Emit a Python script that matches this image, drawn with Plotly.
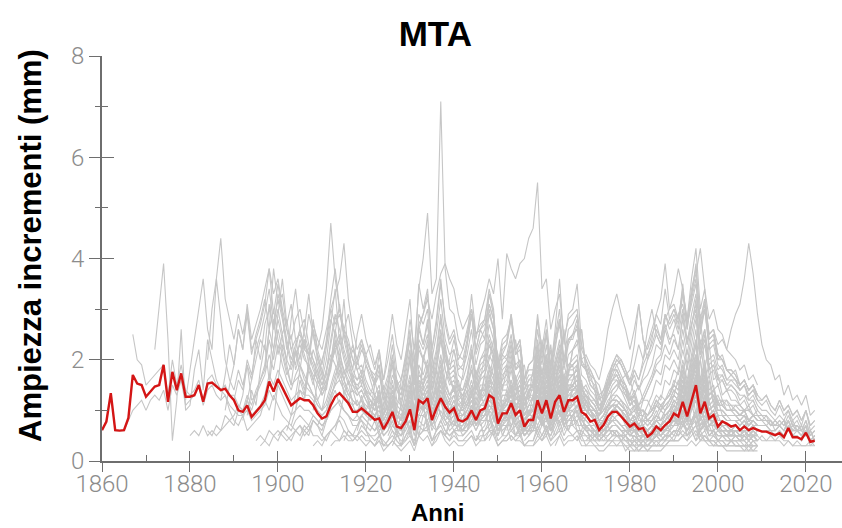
import plotly.graph_objects as go

# ---- mean chronology (red), 1860-2022 ----
mean_start = 1860
mean_vals = [
    0.61, 0.78, 1.34, 0.61, 0.60, 0.61, 0.85, 1.70, 1.53, 1.50,
    1.27, 1.37, 1.47, 1.50, 1.90, 1.17, 1.76, 1.40, 1.73, 1.27,
    1.27, 1.30, 1.50, 1.17, 1.53, 1.55, 1.47, 1.40, 1.43, 1.30,
    1.20, 1.00, 0.97, 1.10, 0.87, 0.97, 1.07, 1.20, 1.57, 1.37,
    1.62, 1.45, 1.27, 1.10, 1.17, 1.24, 1.20, 1.20, 1.10, 0.94,
    0.84, 0.88, 1.10, 1.27, 1.34, 1.24, 1.14, 0.97, 0.97, 1.04,
    0.97, 0.89, 0.81, 0.84, 0.63, 0.78, 0.97, 0.68, 0.65, 0.78,
    1.02, 0.61, 1.20, 1.14, 1.24, 0.81, 1.04, 1.24, 1.07, 0.96,
    1.04, 0.81, 0.78, 0.84, 1.00, 0.81, 1.00, 1.04, 1.30, 1.24,
    0.74, 0.94, 0.94, 1.14, 0.91, 1.00, 0.68, 0.81, 0.81, 1.20,
    0.94, 1.20, 0.84, 1.17, 1.30, 0.97, 1.20, 1.20, 1.27, 0.97,
    0.91, 0.78, 0.81, 0.61, 0.71, 0.88, 0.97, 0.97, 0.88, 0.78,
    0.68, 0.74, 0.63, 0.65, 0.48, 0.55, 0.68, 0.61, 0.71, 0.78,
    0.94, 0.88, 1.17, 0.88, 1.20, 1.50, 0.94, 1.17, 0.84, 0.91,
    0.68, 0.78, 0.74, 0.68, 0.71, 0.61, 0.68, 0.61, 0.65, 0.61,
    0.58, 0.58, 0.55, 0.51, 0.55, 0.47, 0.65, 0.47, 0.47, 0.43,
    0.56, 0.38, 0.40,
]

# ---- individual ring-width series (grey), each with its first year ----
g01_start = 1860
g01 = [0.6, 0.8, 1.3, 0.6, 0.6, 0.6, 0.8, 1.0, 1.1, 1.2,
       1.0, 1.2, 1.3, 1.2, 1.4, 1.0, 1.5, 1.3, 1.6, 1.1,
       1.2, 1.3, 1.5, 1.1, 1.4, 1.5, 1.3, 1.2, 1.3, 1.1,
       1.0, 0.9, 0.9, 1.0, 0.8, 0.9, 1.0, 1.1, 1.4, 1.2,
       1.5, 1.3, 1.1, 0.9, 1.0, 1.1, 1.0, 1.0, 0.9, 0.8,
       0.7, 0.8, 1.0, 1.1, 1.2, 1.0, 0.9, 0.8, 0.8, 0.9,
       0.8, 0.7, 0.6, 0.7, 0.5, 0.6, 0.8, 0.5, 0.5, 0.6,
       0.8, 0.5, 0.9, 0.9, 1.0, 0.6, 0.8, 1.0, 0.8, 0.7,
       0.8, 0.6, 0.6, 0.7, 0.8, 0.6, 0.8, 0.8, 1.0, 0.9,
       0.5, 0.7, 0.7, 0.9, 0.7, 0.8, 0.5, 0.6, 0.6, 0.9,
       0.7, 0.9, 0.6, 0.9, 1.0, 0.7, 0.9, 0.9, 1.0, 0.7,
       0.7, 0.6, 0.6, 0.4, 0.5, 0.6, 0.7, 0.7, 0.6, 0.6,
       0.5, 0.5, 0.4, 0.4, 0.3, 0.4, 0.5, 0.4, 0.5, 0.5,
       0.6, 0.6, 0.8, 0.6, 0.8, 1.0, 0.6, 0.8, 0.6, 0.6,
       0.5, 0.5, 0.5, 0.5, 0.5, 0.4, 0.5, 0.4, 0.5, 0.4]

g02_start = 1867
g02 = [2.5, 2.0, 1.9,
       1.5, 1.6, 1.7, 1.8, 1.9, 1.3, 2.0, 1.5, 1.9, 1.4,
       1.3, 1.4, 1.6, 1.2, 1.6, 1.7, 1.5, 1.4, 1.5, 1.3,
       1.3, 1.1, 1.0, 1.2, 0.9, 1.0, 1.1, 1.3, 1.7, 1.5,
       1.8, 1.6, 1.4, 1.2, 1.3, 1.4, 1.3, 1.3, 1.2, 1.0,
       0.9, 1.0, 1.3, 1.5, 1.6, 1.4, 1.2, 1.0, 1.0, 1.1,
       1.0, 0.9, 0.8, 0.9, 0.6, 0.8, 1.0, 0.7, 0.6, 0.8,
       1.1, 0.6, 1.3, 1.2, 1.4, 0.8, 1.1, 1.4, 1.1, 0.9,
       1.1, 0.8, 0.8, 0.9, 1.1, 0.8, 1.1, 1.1, 1.4, 1.3,
       0.7, 1.0, 1.0, 1.2, 0.9, 1.0, 0.7, 0.8, 0.8, 1.2,
       0.9, 1.2, 0.8, 1.1, 1.3, 0.9, 1.2, 1.2, 1.3, 0.9,
       0.9, 0.8, 0.8, 0.6, 0.7, 0.9, 1.0, 1.0, 0.9, 0.8,
       0.7, 0.7, 0.6, 0.6, 0.5, 0.6, 0.7, 0.6, 0.7, 0.8,
       0.9, 0.9, 1.2, 0.9, 1.2, 1.5, 0.9, 1.1, 0.8, 0.9,
       0.7, 0.8, 0.7, 0.7, 0.7, 0.6, 0.7, 0.6, 0.7, 0.6,
       0.6, 0.6, 0.6, 0.5, 0.6, 0.5, 0.7, 0.5, 0.5, 0.4,
       0.6, 0.4, 0.4]

g03_start = 1872
g03 = [2.2, 3.0, 3.9, 2.4, 0.4, 1.2, 2.6, 1.0,
       1.1, 1.8, 2.2, 1.4, 2.4, 2.0, 1.6, 1.4, 1.3, 1.0,
       0.8, 0.7, 0.9, 0.6, 0.7, 0.8, 0.9, 1.2, 1.0, 1.3,
       1.1, 0.9, 0.8, 0.7, 0.6, 0.7, 0.6, 0.7, 0.5, 0.5,
       0.4, 0.5, 0.6, 0.7, 0.8, 0.6, 0.5, 0.5, 0.4, 0.5,
       0.4, 0.4, 0.3, 0.4, 0.3, 0.3, 0.4, 0.3, 0.3, 0.4,
       0.5, 0.3, 0.5, 0.6, 0.6, 0.4, 0.5, 0.6, 0.5, 0.4,
       0.5, 0.4, 0.4, 0.4, 0.5, 0.4, 0.5, 0.5, 0.6, 0.6,
       0.3, 0.4, 0.4, 0.5, 0.4, 0.5, 0.3, 0.4, 0.4, 0.6,
       0.4, 0.6, 0.4, 0.5, 0.6, 0.4, 0.5, 0.5, 0.6, 0.4,
       0.4, 0.4, 0.3, 0.3, 0.3, 0.4, 0.4, 0.4, 0.4, 0.3,
       0.3, 0.3, 0.2, 0.3, 0.2, 0.3, 0.3, 0.3, 0.3, 0.4,
       0.4, 0.4, 0.5, 0.4, 0.5, 0.6, 0.4, 0.5, 0.4, 0.4,
       0.3, 0.3, 0.3, 0.3, 0.3, 0.3, 0.3, 0.3, 0.3, 0.3]

g04_start = 1879
g04 = [1.2,
       1.8, 2.4, 3.0, 3.6, 2.6, 2.2, 3.6, 2.8, 2.0, 1.6,
       1.4, 1.8, 1.5, 1.9, 1.2, 1.3, 1.6, 1.8, 2.4, 2.0,
       2.6, 2.2, 1.8, 1.5, 1.6, 1.7, 1.5, 1.4, 1.3, 1.1,
       1.0, 1.1, 1.4, 1.7, 1.9, 1.6, 1.3, 1.2, 1.1, 1.2,
       1.1, 1.0, 0.9, 1.0, 0.7, 0.9, 1.1, 0.8, 0.7, 0.9,
       1.2, 0.7, 1.4, 1.3, 1.5, 0.9, 1.2, 1.6, 1.2, 1.0,
       1.2, 0.9, 0.9, 1.0, 1.2, 0.9, 1.2, 1.2, 1.5, 1.4,
       0.8, 1.1, 1.1, 1.3, 1.0, 1.1, 0.8, 0.9, 0.9, 1.3,
       1.0, 1.3, 0.9, 1.2, 1.4, 1.0, 1.3, 1.3, 1.4, 1.0,
       1.0, 0.9, 0.8, 0.7, 0.8, 0.9, 1.0, 1.0, 0.9, 0.8,
       0.7, 0.7, 0.6, 0.6, 0.5, 0.6, 0.7, 0.6, 0.7, 0.8,
       0.9, 0.9, 1.2, 1.0, 1.3, 1.6, 1.0, 1.2, 0.9, 0.9,
       0.8, 0.8, 0.7, 0.7, 0.7, 0.6, 0.7, 0.6, 0.7, 0.6,
       0.6, 0.6, 0.5, 0.5, 0.6, 0.5, 0.7, 0.5, 0.5, 0.4,
       0.6, 0.3, 0.4]

g05_start = 1880
g05 = [0.5, 0.6, 0.5, 0.7, 0.5, 0.6, 0.5, 0.6, 0.7, 0.8,
       0.9, 1.1, 1.0, 1.3, 1.1, 1.4, 1.6, 1.9, 2.6, 2.2,
       2.8, 2.4, 2.0, 1.8, 2.1, 2.3, 2.0, 1.9, 1.7, 1.5,
       1.3, 1.5, 1.9, 2.3, 2.5, 2.1, 1.8, 1.6, 1.5, 1.6,
       1.4, 1.3, 1.2, 1.3, 0.9, 1.1, 1.4, 1.0, 0.9, 1.1,
       1.5, 0.9, 1.7, 1.6, 1.8, 1.1, 1.5, 1.9, 1.5, 1.3,
       1.4, 1.1, 1.1, 1.2, 1.4, 1.1, 1.4, 1.4, 1.8, 1.7,
       1.0, 1.3, 1.3, 1.6, 1.2, 1.3, 0.9, 1.1, 1.1, 1.6,
       1.2, 1.6, 1.1, 1.5, 1.7, 1.2, 1.6, 1.6, 1.7, 1.2,
       1.2, 1.0, 1.0, 0.8, 0.9, 1.1, 1.2, 1.2, 1.1, 1.0,
       0.8, 0.9, 0.7, 0.7, 0.6, 0.7, 0.8, 0.7, 0.8, 0.9,
       1.1, 1.0, 1.4, 1.1, 1.5, 1.8, 1.1, 1.4, 1.0, 1.1,
       0.9, 0.9, 0.8, 0.8, 0.8, 0.7, 0.8, 0.7, 0.8, 0.7]

g06_start = 1884
g06 = [2.0, 3.0, 3.6, 4.4, 3.2, 2.8,
       2.4, 2.9, 2.5, 3.0, 2.2, 2.4, 2.7, 3.1, 3.8, 3.3,
       3.6, 3.0, 2.6, 2.2, 2.4, 2.5, 2.2, 2.1, 1.9, 1.6,
       1.4, 1.5, 1.9, 2.2, 2.4, 2.0, 1.7, 1.5, 1.4, 1.5,
       1.3, 1.2, 1.1, 1.2, 0.8, 1.0, 1.3, 0.9, 0.8, 1.0,
       1.3, 0.8, 1.5, 1.4, 1.6, 1.0, 1.3, 1.7, 1.3, 1.1,
       1.3, 1.0, 1.0, 1.1, 1.3, 1.0, 1.3, 1.3, 1.6, 1.5,
       0.9, 1.1, 1.1, 1.4, 1.0, 1.1, 0.8, 0.9, 0.9, 1.4,
       1.0, 1.4, 0.9, 1.3, 1.5, 1.0, 1.4, 1.4, 1.5, 1.1,
       1.1, 0.9, 0.9, 0.7, 0.8, 1.0, 1.1, 1.1, 1.0, 0.9,
       0.7, 0.8, 0.6, 0.6, 0.5, 0.6, 0.7, 0.6, 0.7, 0.8,
       1.0, 0.9, 1.3, 1.0, 1.4, 1.7, 1.0, 1.3, 0.9, 1.0,
       0.8, 0.8, 0.7, 0.7, 0.7, 0.6, 0.7, 0.6, 0.7, 0.6]

g07_start = 1888
g07 = [1.0, 1.5,
       1.9, 2.6, 2.2, 3.1, 2.4, 2.7, 3.0, 3.4, 3.8, 2.9,
       3.5, 2.9, 2.4, 2.0, 2.3, 2.6, 2.8, 2.3, 2.0, 1.7,
       1.5, 1.7, 2.4, 2.9, 2.6, 2.2, 1.9, 1.5, 1.3, 1.4,
       1.2, 1.0, 0.9, 1.1, 0.6, 0.9, 1.2, 0.8, 0.7, 0.9,
       1.2, 0.6, 1.3, 1.1, 1.3, 0.8, 1.0, 1.4, 1.1, 0.9,
       1.0, 0.7, 0.8, 0.9, 1.1, 0.8, 0.9, 1.0, 1.3, 1.1,
       0.6, 0.8, 0.9, 1.1, 0.8, 0.9, 0.6, 0.7, 0.7, 1.1,
       0.8, 1.0, 0.7, 1.0, 1.2, 0.8, 1.0, 1.1, 1.2, 0.8,
       0.8, 0.7, 0.6, 0.5, 0.6, 0.7, 0.8, 0.8, 0.7, 0.6,
       0.5, 0.6, 0.4, 0.5, 0.4, 0.5, 0.6, 0.5, 0.6, 0.7,
       0.8, 0.7, 1.0, 0.8, 1.1, 1.3, 0.8, 1.0, 0.7, 0.8,
       0.6, 0.6, 0.6, 0.5, 0.6, 0.5, 0.6, 0.5, 0.6, 0.5]

g08_start = 1892
g08 = [0.8, 1.2, 1.6, 2.0, 2.4, 2.2, 3.1, 2.6,
       3.0, 2.5, 2.8, 2.2, 1.9, 2.4, 2.1, 1.8, 2.2, 1.9,
       1.6, 2.0, 2.7, 3.4, 2.3, 3.2, 2.0, 1.7, 1.6, 1.8,
       1.5, 1.3, 1.6, 1.2, 0.9, 1.1, 1.5, 1.0, 0.8, 1.2,
       1.6, 0.9, 1.8, 1.5, 1.7, 1.1, 1.4, 2.0, 1.4, 1.2,
       1.3, 1.0, 0.9, 1.1, 1.4, 1.0, 1.2, 1.3, 1.7, 1.5,
       0.8, 1.1, 1.2, 1.5, 1.1, 1.2, 0.8, 0.9, 1.0, 1.5,
       1.1, 1.4, 1.0, 1.4, 1.6, 1.1, 1.4, 1.5, 1.6, 1.1,
       1.0, 0.9, 0.8, 0.6, 0.7, 0.9, 1.0, 1.1, 1.0, 0.8,
       0.7, 0.8, 0.6, 0.6, 0.5, 0.6, 0.8, 0.7, 0.8, 0.9,
       1.1, 1.0, 1.4, 1.1, 1.5, 1.9, 1.1, 1.5, 1.0, 1.1,
       0.9, 0.9, 0.8, 0.8, 0.8, 0.7, 0.8, 0.7, 0.8, 0.7,
       0.7, 0.7, 0.6, 0.6, 0.7, 0.6, 0.8, 0.6, 0.6, 0.5,
       0.7, 0.4, 0.5]

g09_start = 1895
g09 = [0.4, 0.5, 0.4, 0.6, 0.5,
       0.6, 0.5, 0.4, 0.5, 0.6, 0.5, 0.7, 0.6, 0.8, 0.7,
       0.9, 1.0, 1.3, 1.5, 1.8, 1.6, 1.9, 2.2, 2.0, 2.4,
       2.1, 2.3, 1.9, 2.2, 1.6, 2.0, 2.5, 1.8, 1.6, 2.1,
       2.6, 1.5, 2.9, 2.7, 3.0, 2.0, 2.5, 3.2, 2.4, 2.1,
       2.2, 1.7, 1.6, 1.9, 2.3, 1.7, 2.0, 2.1, 2.7, 2.4,
       1.3, 1.7, 1.8, 2.2, 1.6, 1.8, 1.2, 1.4, 1.4, 2.1,
       1.5, 1.9, 1.3, 1.8, 2.1, 1.4, 1.8, 1.9, 2.0, 1.4,
       1.3, 1.1, 1.0, 0.8, 0.9, 1.1, 1.2, 1.3, 1.2, 1.0,
       0.8, 0.9, 0.7, 0.7, 0.6, 0.7, 0.9, 0.8, 0.9, 1.0,
       1.2, 1.1, 1.5, 1.2, 1.6, 2.0, 1.2, 1.6, 1.1, 1.2,
       1.0, 1.0, 0.9, 0.9, 0.9, 0.8, 0.9, 0.8, 0.9, 0.8]

g10_start = 1897
g10 = [1.8, 2.6, 3.8,
       3.1, 3.3, 2.6, 2.4, 2.8, 3.0, 2.5, 2.2, 2.0, 1.8,
       1.5, 1.8, 2.3, 2.8, 3.0, 2.5, 2.1, 1.8, 1.6, 1.7,
       1.4, 1.2, 1.0, 1.3, 0.8, 1.0, 1.4, 0.9, 0.8, 1.0,
       1.4, 0.8, 1.5, 1.3, 1.5, 0.9, 1.2, 1.6, 1.2, 1.0,
       1.1, 0.8, 0.9, 1.0, 1.2, 0.9, 1.1, 1.1, 1.5, 1.2,
       0.7, 0.9, 0.9, 1.2, 0.9, 1.0, 0.6, 0.8, 0.8, 1.2,
       0.9, 1.1, 0.8, 1.0, 1.3, 0.8, 1.1, 1.1, 1.2, 0.9,
       0.8, 0.7, 0.7, 0.5, 0.6, 0.7, 0.8, 0.8, 0.7, 0.7,
       0.5, 0.6, 0.5, 0.5, 0.4, 0.5, 0.6, 0.5, 0.6, 0.6,
       0.7, 0.7, 0.9, 0.7, 1.0, 1.2, 0.7, 0.9, 0.7, 0.7,
       0.6, 0.6, 0.5, 0.5, 0.5, 0.5, 0.5, 0.4, 0.5, 0.5]

g11_start = 1900
g11 = [0.5, 0.6, 0.7, 0.6, 0.8, 0.9, 0.8, 0.7, 0.9, 0.8,
       0.7, 0.8, 1.0, 1.1, 1.2, 1.0, 0.9, 0.7, 0.7, 0.8,
       0.6, 0.5, 0.5, 0.6, 0.3, 0.4, 0.6, 0.4, 0.3, 0.5,
       0.7, 0.3, 0.8, 0.7, 0.8, 0.4, 0.6, 0.8, 0.6, 0.5,
       0.6, 0.4, 0.4, 0.5, 0.6, 0.4, 0.6, 0.6, 0.8, 0.7,
       0.4, 0.5, 0.5, 0.7, 0.5, 0.6, 0.3, 0.4, 0.4, 0.7,
       0.5, 0.7, 0.4, 0.6, 0.8, 0.5, 0.7, 0.7, 0.8, 0.5,
       0.5, 0.4, 0.4, 0.3, 0.3, 0.4, 0.5, 0.5, 0.4, 0.4,
       0.3, 0.3, 0.2, 0.3, 0.2, 0.3, 0.3, 0.3, 0.3, 0.4,
       0.4, 0.4, 0.5, 0.4, 0.6, 0.7, 0.4, 0.5, 0.4, 0.4,
       0.3, 0.3, 0.3, 0.3, 0.3, 0.3, 0.3, 0.2, 0.3, 0.3]

g12_start = 1906
g12 = [1.2, 2.0, 2.8, 2.2,
       2.6, 3.4, 4.7, 3.6, 3.0, 2.6, 2.4, 2.0, 1.8, 1.9,
       1.6, 1.4, 1.3, 1.5, 0.9, 1.2, 1.6, 1.1, 1.0, 1.3,
       1.7, 1.0, 1.9, 1.7, 2.0, 1.2, 1.6, 2.1, 1.6, 1.3,
       1.4, 1.1, 1.0, 1.2, 1.5, 1.1, 1.4, 1.4, 1.8, 1.6,
       0.9, 1.2, 1.2, 1.5, 1.1, 1.2, 0.8, 1.0, 1.0, 1.5,
       1.1, 1.5, 1.0, 1.4, 1.7, 1.1, 1.5, 1.5, 1.6, 1.1,
       1.0, 0.9, 0.8, 0.6, 0.7, 0.9, 1.0, 1.0, 0.9, 0.8,
       0.7, 0.7, 0.6, 0.6, 0.5, 0.6, 0.7, 0.6, 0.7, 0.8,
       0.9, 0.9, 1.2, 0.9, 1.3, 1.6, 0.9, 1.2, 0.8, 0.9,
       0.7, 0.7, 0.7, 0.6, 0.7, 0.6, 0.7, 0.6, 0.7, 0.6]

g13_start = 1925
g13 = [0.8, 1.2, 1.0, 1.6, 2.0,
       2.8, 2.2, 3.4, 4.0, 4.9, 3.3, 3.6, 7.1, 3.8, 3.0,
       2.9, 2.4, 2.2, 2.5, 2.9, 2.1, 2.4, 2.6, 3.1, 2.8,
       1.6, 2.0, 2.1, 2.5, 1.9, 2.0, 1.4, 1.6, 1.6, 2.3,
       1.7, 2.1, 1.4, 1.9, 2.2, 1.5, 1.9, 2.0, 2.1, 1.5,
       1.4, 1.2, 1.1, 0.9, 1.0, 1.2, 1.3, 1.3, 1.2, 1.1,
       0.9, 1.0, 0.8, 0.8, 0.7, 0.8, 0.9, 0.8, 0.9, 1.0,
       1.2, 1.1, 1.5, 1.2, 1.6, 2.0, 1.2, 1.5, 1.0, 1.1,
       0.9, 0.9, 0.8, 0.8, 0.8, 0.7, 0.8, 0.7, 0.8, 0.7,
       0.7, 0.7, 0.6, 0.6, 0.7, 0.6, 0.8, 0.6, 0.6, 0.5,
       0.7, 0.4, 0.5]

g14_start = 1908
g14 = [1.0, 1.6,
       2.0, 2.3, 3.0, 3.3, 3.6, 4.3, 3.2, 2.6, 2.2, 2.4,
       2.0, 1.8, 1.6, 1.9, 1.2, 1.5, 2.0, 1.4, 1.2, 1.6,
       2.0, 1.2, 2.2, 2.0, 2.3, 1.4, 1.8, 2.4, 1.8, 1.5,
       1.6, 1.2, 1.1, 1.3, 1.6, 1.2, 1.5, 1.5, 1.9, 1.7,
       1.0, 1.3, 1.3, 1.6, 1.2, 1.3, 0.9, 1.0, 1.0, 1.5,
       1.1, 1.4, 1.0, 1.3, 1.6, 1.1, 1.4, 1.4, 1.5, 1.1,
       1.0, 0.9, 0.8, 0.6, 0.7, 0.9, 1.0, 1.0, 0.9, 0.8,
       0.6, 0.7, 0.5, 0.5, 0.4, 0.5, 0.6, 0.5, 0.6, 0.7,
       0.8, 0.8, 1.0, 0.8, 1.1, 1.3, 0.8, 1.0, 0.7, 0.8,
       0.6, 0.6, 0.6, 0.5, 0.6, 0.5, 0.6, 0.5, 0.6, 0.5]

g15_start = 1918
g15 = [0.6, 0.9,
       1.0, 1.2, 1.1, 1.4, 1.0, 1.3, 1.7, 1.5, 1.6, 2.0,
       2.4, 1.9, 2.7, 2.9, 3.2, 2.8, 3.3, 3.7, 3.9, 3.6,
       3.4, 2.9, 2.6, 2.8, 3.0, 2.5, 2.6, 2.7, 3.1, 2.8,
       1.9, 2.1, 2.0, 2.3, 1.8, 1.9, 1.3, 1.5, 1.5, 2.0,
       1.5, 1.8, 1.2, 1.6, 1.9, 1.3, 1.6, 1.7, 1.8, 1.3,
       1.2, 1.0, 0.9, 0.7, 0.8, 1.0, 1.1, 1.1, 1.0, 0.9,
       0.7, 0.8, 0.6, 0.6, 0.5, 0.6, 0.7, 0.6, 0.7, 0.8,
       0.9, 0.9, 1.1, 0.9, 1.2, 1.4, 0.9, 1.1, 0.8, 0.9,
       0.7, 0.7, 0.6, 0.6, 0.6, 0.6, 0.6, 0.5, 0.6, 0.5]

g16_start = 1938
g16 = [1.5, 2.0,
       2.4, 2.0, 2.2, 2.6, 3.0, 2.4, 2.9, 3.2, 3.6, 3.3,
       4.0, 2.8, 4.1, 3.8, 3.6, 3.9, 4.0, 4.4, 4.6, 5.5,
       3.4, 3.6, 2.6, 3.0, 3.3, 2.4, 2.8, 2.9, 3.0, 2.2,
       2.0, 1.8, 1.6, 1.3, 1.4, 1.6, 1.8, 1.8, 1.6, 1.5,
       1.2, 1.3, 1.0, 1.0, 0.9, 1.0, 1.2, 1.1, 1.2, 1.3,
       1.5, 1.4, 1.8, 1.4, 1.9, 2.3, 1.4, 1.8, 1.2, 1.3,
       1.1, 1.1, 1.0, 1.0, 1.0, 0.9, 1.0, 0.8, 0.9, 0.8,
       0.8, 0.8, 0.7, 0.7, 0.8, 0.7, 0.9, 0.7, 0.7, 0.6,
       0.8, 0.5, 0.6]

g17_start = 1925
g17 = [0.5, 0.7, 0.6, 0.9, 1.1,
       1.4, 1.0, 1.6, 1.5, 1.8, 1.2, 1.5, 1.9, 1.5, 1.3,
       1.5, 1.2, 1.3, 1.5, 1.8, 1.4, 1.7, 1.8, 2.3, 2.1,
       1.4, 1.8, 1.9, 2.3, 1.8, 2.0, 1.4, 1.6, 1.7, 2.4,
       1.9, 2.5, 1.8, 2.6, 3.6, 2.3, 2.9, 3.0, 3.5, 2.3,
       2.0, 1.7, 1.6, 1.2, 1.4, 1.7, 1.9, 1.9, 1.7, 1.5,
       1.2, 1.3, 1.0, 1.0, 0.9, 1.0, 1.2, 1.0, 1.2, 1.3,
       1.5, 1.4, 1.9, 1.5, 2.0, 2.4, 1.5, 1.9, 1.3, 1.4,
       1.1, 1.1, 1.0, 1.0, 1.0, 0.9, 1.0, 0.8, 0.9, 0.8]

g18_start = 1945
g18 = [0.4, 0.6, 0.7, 1.0, 1.1,
       0.8, 1.1, 1.2, 1.5, 1.3, 1.5, 1.1, 1.4, 1.5, 2.0,
       1.7, 2.1, 1.6, 2.0, 2.4, 1.8, 2.3, 2.5, 2.6, 2.0,
       2.1, 1.9, 1.8, 1.6, 2.0, 2.6, 3.0, 3.3, 2.9, 2.6,
       2.2, 2.6, 3.1, 2.4, 2.0, 2.2, 2.5, 2.3, 2.8, 3.0,
       3.1, 2.8, 3.4, 2.7, 3.2, 3.6, 2.5, 3.0, 2.2, 2.3,
       1.9, 1.8, 1.6, 1.6, 1.5, 1.4, 1.5, 1.3, 1.4, 1.2]

g19_start = 1950
g19 = [0.3, 0.4, 0.5, 0.6, 0.5, 0.7, 0.5, 0.6, 0.7, 0.9,
       0.8, 1.0, 0.8, 1.1, 1.3, 1.0, 1.3, 1.4, 1.5, 1.2,
       1.3, 1.2, 1.1, 0.9, 1.1, 1.4, 1.6, 1.8, 1.6, 1.5,
       1.3, 1.6, 1.4, 1.7, 2.0, 2.4, 2.9, 3.2, 3.9, 3.0,
       3.3, 3.8, 3.4, 2.8, 3.6, 4.2, 3.0, 3.4, 2.4, 2.5,
       2.0, 2.1, 1.8, 1.7, 1.6, 1.5, 1.6, 1.4, 1.5, 1.3]

g20_start = 1955
g20 = [0.5, 0.6, 0.7, 0.9, 1.0,
       1.1, 1.3, 1.0, 1.3, 1.5, 1.2, 1.4, 1.5, 1.6, 1.3,
       1.4, 1.3, 1.2, 1.0, 1.1, 1.3, 1.4, 1.5, 1.4, 1.3,
       1.1, 1.3, 1.1, 1.2, 1.4, 1.6, 1.9, 2.0, 2.3, 2.1,
       2.4, 2.2, 2.8, 2.3, 2.9, 3.3, 2.6, 3.1, 2.5, 2.6,
       2.3, 2.4, 2.2, 2.6, 2.9, 3.1, 3.6, 4.3, 3.7, 2.9,
       2.3, 2.0, 1.9, 1.6, 1.7, 1.3, 1.5, 1.2, 1.3, 1.1,
       1.3, 0.9, 1.0]

g21_start = 1965
g21 = [0.6, 0.8, 0.9, 1.1, 1.0,
       1.2, 1.1, 1.0, 0.9, 1.1, 1.3, 1.5, 1.6, 1.5, 1.3,
       1.2, 1.4, 1.1, 1.3, 1.5, 1.7, 2.0, 2.1, 2.6, 2.3,
       2.6, 2.9, 3.1, 2.6, 3.3, 3.7, 4.2, 3.4, 2.8, 3.0,
       2.6, 2.5, 2.2, 2.1, 2.0, 1.8, 1.9, 1.6, 1.7, 1.5]

g22_start = 1970
g22 = [0.4, 0.5, 0.6, 0.6, 0.8, 1.0, 1.3, 1.4, 1.6, 1.7,
       1.8, 2.3, 3.1, 2.4, 2.2, 2.5, 2.7, 2.4, 2.9, 2.6,
       2.8, 2.5, 3.0, 2.4, 2.7, 3.1, 2.3, 2.6, 2.0, 2.1,
       1.8, 1.9, 1.6, 1.7, 1.8, 1.5, 1.6, 1.4, 1.5, 1.3,
       1.2, 1.3, 1.1, 1.0, 1.2, 1.0, 1.1, 0.9, 1.0, 0.8,
       1.0, 0.7, 0.8]

g23_start = 1890
g23 = [1.2, 1.6, 1.4, 2.0, 1.7, 2.2, 2.5, 2.9, 3.4, 2.7,
       3.2, 2.8, 2.3, 1.9, 2.2, 2.6, 2.3, 2.1, 1.8, 1.6,
       1.4, 1.6, 2.0, 2.3, 2.1, 1.8, 1.6, 1.4, 1.3, 1.4,
       1.2, 1.1, 1.0, 1.1, 0.7, 0.9, 1.2, 0.8, 0.7, 0.9,
       1.2, 0.7, 1.3, 1.2, 1.4, 0.8, 1.1, 1.5, 1.1, 0.9,
       1.0, 0.8, 0.8, 0.9, 1.1, 0.8, 1.0, 1.0, 1.3, 1.2,
       0.7, 0.9, 0.9, 1.1, 0.8, 0.9, 0.6, 0.7, 0.7, 1.0,
       0.8, 1.0, 0.7, 0.9, 1.1, 0.8, 1.0, 1.0, 1.1, 0.8,
       0.7, 0.6, 0.6, 0.5, 0.5, 0.6, 0.7, 0.7, 0.6, 0.6,
       0.5, 0.5, 0.4, 0.4, 0.4, 0.4, 0.5, 0.4, 0.5, 0.5,
       0.6, 0.6, 0.8, 0.6, 0.8, 1.0, 0.6, 0.8, 0.6, 0.6,
       0.5, 0.5, 0.5, 0.4, 0.5, 0.4, 0.5, 0.4, 0.5, 0.4]

g24_start = 1902
g24 = [0.6, 0.9, 1.3, 1.8, 2.4, 2.1, 2.7, 2.4,
       2.2, 2.6, 3.0, 2.7, 2.9, 2.5, 2.3, 2.0, 1.9, 2.2,
       2.0, 1.8, 1.7, 1.9, 1.3, 1.6, 2.1, 1.5, 1.3, 1.7,
       2.2, 1.3, 2.4, 2.2, 2.5, 1.6, 2.0, 2.6, 2.0, 1.7,
       1.8, 1.4, 1.3, 1.5, 1.9, 1.4, 1.7, 1.8, 2.3, 2.0,
       1.2, 1.5, 1.5, 1.9, 1.4, 1.5, 1.0, 1.2, 1.2, 1.7,
       1.3, 1.7, 1.2, 1.6, 1.9, 1.3, 1.7, 1.7, 1.8, 1.3,
       1.2, 1.0, 0.9, 0.7, 0.8, 1.0, 1.1, 1.1, 1.0, 0.9,
       0.7, 0.8, 0.6, 0.6, 0.5, 0.6, 0.7, 0.6, 0.7, 0.8,
       0.9, 0.9, 1.2, 0.9, 1.3, 1.6, 0.9, 1.2, 0.8, 0.9,
       0.7, 0.7, 0.6, 0.6, 0.6, 0.6, 0.6, 0.5, 0.6, 0.5]

g25_start = 1912
g25 = [0.3, 0.4, 0.4, 0.5, 0.4, 0.4, 0.5, 0.6,
       0.5, 0.5, 0.4, 0.5, 0.3, 0.4, 0.5, 0.4, 0.3, 0.5,
       0.6, 0.3, 0.7, 0.6, 0.7, 0.4, 0.6, 0.8, 0.6, 0.5,
       0.6, 0.5, 0.5, 0.6, 0.8, 0.6, 0.8, 0.9, 1.2, 1.1,
       0.7, 1.0, 1.1, 1.4, 1.1, 1.2, 0.8, 1.0, 1.0, 1.5,
       1.2, 1.6, 1.1, 1.5, 1.8, 1.2, 1.6, 1.7, 1.8, 1.3,
       1.2, 1.0, 1.0, 0.8, 0.9, 1.1, 1.2, 1.2, 1.1, 1.0,
       0.8, 0.9, 0.7, 0.7, 0.6, 0.7, 0.8, 0.7, 0.8, 0.9,
       1.0, 1.0, 1.3, 1.0, 1.4, 1.7, 1.0, 1.3, 0.9, 1.0,
       0.8, 0.8, 0.7, 0.7, 0.7, 0.6, 0.7, 0.6, 0.7, 0.6]

g26_start = 1928
g26 = [0.8, 1.4,
       2.0, 1.5, 2.6, 2.9, 3.3, 2.2, 2.7, 3.5, 2.8, 2.4,
       2.6, 2.1, 2.0, 2.4, 3.3, 2.5, 2.7, 2.8, 3.4, 3.0,
       1.8, 2.2, 2.3, 2.8, 2.1, 2.3, 1.6, 1.8, 1.8, 2.6,
       2.0, 2.5, 1.7, 2.3, 2.7, 1.9, 2.4, 2.5, 2.6, 1.9,
       1.8, 1.5, 1.4, 1.1, 1.2, 1.5, 1.6, 1.7, 1.5, 1.4,
       1.1, 1.2, 0.9, 0.9, 0.8, 0.9, 1.1, 1.0, 1.1, 1.2,
       1.4, 1.3, 1.7, 1.3, 1.8, 2.1, 1.3, 1.7, 1.2, 1.3,
       1.0, 1.0, 0.9, 0.9, 0.9, 0.8, 0.9, 0.7, 0.8, 0.7]

g27_start = 1960
g27 = [0.4, 0.6, 0.5, 0.7, 0.9, 0.8, 1.0, 1.2, 1.4, 1.1,
       1.3, 1.2, 1.2, 1.0, 1.3, 1.6, 1.9, 2.1, 2.0, 1.8,
       1.5, 1.7, 1.4, 1.6, 1.7, 1.9, 2.3, 2.2, 2.6, 2.8,
       3.0, 2.7, 3.5, 2.6, 3.3, 3.9, 2.7, 3.2, 2.4, 2.5,
       2.1, 2.0, 1.8, 1.7, 1.6, 1.4, 1.5, 1.2, 1.3, 1.1,
       1.0, 1.0, 0.9, 0.8, 0.9, 0.8, 1.0, 0.7, 0.8, 0.6,
       0.8, 0.5, 0.6]

g28_start = 1975
g28 = [0.3, 0.4, 0.5, 0.5, 0.6,
       0.6, 0.7, 0.6, 0.8, 0.9, 1.1, 1.3, 1.2, 1.6, 1.5,
       1.8, 1.7, 2.2, 1.8, 2.3, 2.8, 2.0, 2.3, 1.7, 1.8,
       1.5, 1.6, 1.4, 1.4, 1.3, 1.1, 1.2, 1.0, 1.1, 0.9,
       0.9, 0.9, 0.8, 0.7, 0.8, 0.7, 0.8, 0.6, 0.7, 0.6,
       0.7, 0.4, 0.5]

h01_start = 1893
h01 = [0.9, 1.4, 1.1, 1.8, 2.3, 1.6, 2.8, 2.1, 2.5, 1.9, 1.5, 2.2, 1.7, 1.4, 1.9,
       1.6, 1.2, 1.0, 1.5, 1.8, 2.4, 1.9, 1.3, 1.6, 1.1, 0.9, 1.3, 1.0, 0.8, 1.2,
       0.7, 0.6, 0.9, 1.1, 0.6, 0.5, 0.8, 1.0, 0.7, 1.3, 1.1, 1.0, 0.7, 0.9, 1.2,
       0.8, 0.6, 0.7, 0.9, 1.1, 0.7, 0.8, 1.0, 1.3, 1.1, 0.6, 0.8, 0.7, 1.0, 0.8,
       0.9, 0.5, 0.7, 0.6, 1.0, 0.8, 1.1, 0.7, 0.9, 1.2, 0.8, 1.0, 0.9, 1.1, 0.7,
       0.6, 0.5, 0.7, 0.4, 0.5, 0.6, 0.8, 0.7, 0.5, 0.6, 0.4, 0.5, 0.3, 0.4, 0.3,
       0.4, 0.5, 0.4, 0.6, 0.7, 0.8, 0.6, 0.9, 0.7, 1.0, 1.2, 0.7, 0.9, 0.6, 0.7,
       0.5, 0.6, 0.4, 0.5, 0.5, 0.4, 0.5, 0.4, 0.4, 0.3, 0.4, 0.3]

h02_start = 1896
h02 = [0.3, 0.4, 0.3, 0.5, 0.4, 0.6, 0.5, 0.4, 0.6, 0.7, 0.5, 0.6, 0.8, 0.7, 0.5,
       0.4, 0.6, 0.7, 0.9, 0.8, 0.6, 0.5, 0.5, 0.7, 0.6, 0.4, 0.3, 0.5, 0.4, 0.3,
       0.4, 0.6, 0.3, 0.7, 0.8, 0.9, 0.5, 0.6, 1.0, 0.7, 0.6, 0.7, 0.5, 0.4, 0.6,
       0.7, 0.5, 0.6, 0.8, 0.9, 0.8, 0.4, 0.5, 0.6, 0.8, 0.6, 0.7, 0.4, 0.5, 0.5,
       0.8, 0.6, 0.8, 0.5, 0.7, 0.9, 0.6, 0.8, 0.8, 0.9, 0.6, 0.5, 0.4, 0.5, 0.3,
       0.4, 0.5, 0.6, 0.5, 0.4, 0.4, 0.3, 0.4, 0.2, 0.3, 0.2, 0.3, 0.4, 0.3, 0.4,
       0.5, 0.5, 0.4, 0.6, 0.5, 0.7, 0.8, 0.5, 0.6, 0.4, 0.5, 0.4, 0.4, 0.3, 0.4,
       0.3, 0.3, 0.4, 0.3, 0.3, 0.3, 0.3, 0.2, 0.3]

h03_start = 1898
h03 = [1.5, 2.2, 2.9, 3.6, 2.7, 3.1, 2.4, 2.0, 2.6, 3.3, 2.5, 2.1, 1.8, 1.5, 1.9,
       2.6, 2.2, 1.7, 2.0, 1.6, 1.4, 1.7, 1.3, 1.1, 1.0, 1.4, 0.8, 1.0, 1.3, 0.9,
       0.8, 1.1, 1.5, 0.9, 1.6, 1.2, 1.4, 0.9, 1.2, 1.7, 1.3, 1.0, 1.2, 0.9, 0.8,
       1.0, 1.3, 0.9, 1.1, 1.2, 1.6, 1.4, 0.8, 1.0, 1.1, 1.3, 0.9, 1.0, 0.7, 0.8,
       0.9, 1.3, 1.0, 1.2, 0.8, 1.1, 1.4, 0.9, 1.2, 1.1, 1.3, 0.9, 0.8, 0.7, 0.6,
       0.5, 0.6, 0.8, 0.9, 0.8, 0.7, 0.6, 0.5, 0.6, 0.4, 0.5, 0.4, 0.5, 0.6, 0.5,
       0.6, 0.7, 0.9, 0.7, 1.0, 0.8, 1.1, 1.4, 0.8, 1.0, 0.7, 0.8, 0.6, 0.6, 0.5,
       0.6, 0.5, 0.5, 0.6, 0.4, 0.5, 0.4]

h04_start = 1903
h04 = [0.7, 1.0, 1.4, 1.2, 1.8, 1.5, 2.1, 1.7, 1.4, 2.0, 2.6, 3.1, 2.4, 2.0, 2.3,
       1.8, 1.5, 1.9, 1.6, 1.3, 1.2, 1.5, 0.9, 1.1, 1.6, 1.0, 0.9, 1.3, 1.9, 1.1,
       2.1, 1.8, 2.2, 1.3, 1.7, 2.3, 1.7, 1.4, 1.6, 1.2, 1.1, 1.4, 1.8, 1.3, 1.5,
       1.6, 2.1, 1.8, 1.0, 1.3, 1.4, 1.7, 1.2, 1.3, 0.9, 1.1, 1.0, 1.6, 1.2, 1.5,
       1.0, 1.4, 1.7, 1.1, 1.5, 1.4, 1.6, 1.1, 1.0, 0.8, 0.8, 0.6, 0.7, 0.9, 1.0,
       0.9, 0.8, 0.7, 0.6, 0.7, 0.5, 0.6, 0.4, 0.5, 0.7, 0.6, 0.7, 0.8, 1.1, 0.8,
       1.2, 1.0, 1.3, 1.6, 1.0, 1.2, 0.8, 0.9, 0.7, 0.7, 0.6, 0.7, 0.6, 0.6, 0.6,
       0.5, 0.6]

h05_start = 1910
h05 = [0.5, 0.8, 1.2, 1.6, 2.0, 2.6, 2.2, 1.8, 2.5, 2.9, 2.4, 2.1, 1.8, 2.2, 1.4,
       1.7, 2.3, 1.6, 1.4, 1.9, 2.5, 1.5, 2.7, 2.3, 2.8, 1.8, 2.2, 2.9, 2.2, 1.9,
       2.0, 1.5, 1.4, 1.7, 2.2, 1.6, 1.9, 2.0, 2.5, 2.2, 1.3, 1.6, 1.7, 2.1, 1.5,
       1.7, 1.1, 1.3, 1.3, 1.9, 1.4, 1.8, 1.2, 1.7, 2.0, 1.4, 1.8, 1.8, 1.9, 1.4,
       1.3, 1.1, 1.0, 0.8, 0.9, 1.1, 1.2, 1.2, 1.1, 1.0, 0.8, 0.9, 0.7, 0.7, 0.6,
       0.7, 0.8, 0.7, 0.8, 0.9, 1.0, 1.0, 1.3, 1.0, 1.4, 1.7, 1.0, 1.3, 0.9, 1.0,
       0.8, 0.8, 0.7, 0.7, 0.7, 0.6, 0.7, 0.6, 0.7, 0.6]

h06_start = 1915
h06 = [0.4, 0.6, 0.5, 0.7, 0.9, 0.8, 0.7, 0.6, 0.8, 0.5, 0.6, 0.9, 0.6, 0.5, 0.7,
       1.0, 0.6, 1.1, 1.0, 1.2, 0.7, 0.9, 1.3, 1.0, 0.8, 0.9, 0.7, 0.6, 0.8, 1.0,
       0.7, 0.9, 0.9, 1.2, 1.1, 0.6, 0.8, 0.8, 1.0, 0.7, 0.8, 0.5, 0.6, 0.6, 0.9,
       0.7, 0.9, 0.6, 0.8, 1.0, 0.7, 0.9, 0.9, 1.0, 0.7, 0.7, 0.6, 0.5, 0.4, 0.5,
       0.6, 0.7, 0.7, 0.6, 0.5, 0.4, 0.5, 0.4, 0.4, 0.3, 0.4, 0.5, 0.4, 0.5, 0.5,
       0.6, 0.6, 0.8, 0.6, 0.8, 1.0, 0.6, 0.8, 0.5, 0.6, 0.5, 0.5, 0.4, 0.4, 0.4,
       0.4, 0.4, 0.3, 0.4, 0.3]

h07_start = 1920
h07 = [0.6, 1.0, 1.5, 2.1, 1.6, 2.2, 2.9, 2.3, 2.0, 2.6, 3.2, 1.9, 3.5, 3.0, 3.4,
       2.2, 2.8, 3.6, 2.7, 2.3, 2.5, 1.9, 1.8, 2.1, 2.6, 1.9, 2.3, 2.4, 3.0, 2.6,
       1.5, 1.9, 2.0, 2.4, 1.8, 1.9, 1.3, 1.5, 1.5, 2.1, 1.6, 2.0, 1.4, 1.8, 2.1,
       1.4, 1.8, 1.9, 2.0, 1.4, 1.3, 1.1, 1.0, 0.8, 0.9, 1.1, 1.2, 1.2, 1.1, 1.0,
       0.8, 0.8, 0.6, 0.7, 0.6, 0.7, 0.8, 0.7, 0.8, 0.9, 1.0, 1.0, 1.3, 1.0, 1.4,
       1.6, 1.0, 1.2, 0.8, 0.9, 0.7, 0.7, 0.6, 0.6, 0.6, 0.6, 0.6, 0.5, 0.6, 0.5]

h08_start = 1930
h08 = [0.5, 0.4, 0.8, 1.0, 1.3, 0.9, 1.2, 1.8, 1.4, 1.2, 1.5, 1.1, 1.2, 1.6, 2.2,
       1.6, 2.0, 2.2, 2.9, 2.6, 1.6, 2.1, 2.3, 2.9, 2.2, 2.4, 1.6, 1.9, 2.0, 2.9,
       2.2, 2.8, 1.9, 2.5, 3.0, 2.0, 2.6, 2.7, 2.9, 2.0, 1.8, 1.5, 1.4, 1.0, 1.1,
       1.4, 1.6, 1.6, 1.4, 1.2, 1.0, 1.1, 0.8, 0.8, 0.7, 0.8, 1.0, 0.8, 1.0, 1.1,
       1.3, 1.2, 1.6, 1.2, 1.7, 2.0, 1.2, 1.6, 1.1, 1.2, 0.9, 0.9, 0.8, 0.8, 0.8,
       0.7, 0.8, 0.7, 0.8, 0.7]

h09_start = 1935
h09 = [0.3, 0.5, 0.6, 0.5, 0.7, 0.8, 0.6, 0.6, 0.7, 0.9, 0.7, 0.9, 0.9, 1.2, 1.1,
       0.7, 0.9, 1.0, 1.2, 0.9, 1.0, 0.7, 0.8, 0.8, 1.2, 0.9, 1.2, 0.8, 1.1, 1.3,
       0.9, 1.2, 1.2, 1.3, 0.9, 0.9, 0.8, 0.7, 0.6, 0.6, 0.7, 0.8, 0.8, 0.7, 0.7,
       0.6, 0.6, 0.5, 0.5, 0.4, 0.5, 0.6, 0.5, 0.6, 0.7, 0.8, 0.7, 1.0, 0.8, 1.0,
       1.2, 0.8, 1.0, 0.7, 0.8, 0.6, 0.6, 0.5, 0.6, 0.5, 0.5, 0.5, 0.4, 0.5, 0.4,
       0.5, 0.4, 0.4, 0.4, 0.4, 0.3, 0.4, 0.3, 0.3, 0.3, 0.3, 0.4, 0.3]

h10_start = 1940
h10 = [0.8, 1.3, 1.7, 2.3, 2.9, 2.2, 2.6, 2.4, 3.3, 2.9, 1.8, 2.3, 2.4, 2.9, 2.2,
       2.4, 1.6, 1.9, 2.0, 2.8, 2.1, 2.6, 1.8, 2.4, 2.8, 1.9, 2.4, 2.5, 2.8, 1.9,
       1.8, 1.5, 1.4, 1.1, 1.2, 1.5, 1.7, 1.7, 1.5, 1.4, 1.1, 1.2, 1.0, 1.0, 0.8,
       0.9, 1.1, 1.0, 1.1, 1.2, 1.4, 1.3, 1.7, 1.3, 1.8, 2.1, 1.3, 1.7, 1.2, 1.3,
       1.0, 1.0, 0.9, 0.9, 0.9, 0.8, 0.9, 0.7, 0.8, 0.7]

h11_start = 1948
h11 = [0.4, 0.6, 0.5, 0.8, 0.9, 1.2, 1.0, 1.3, 0.9, 1.1, 1.3, 1.9, 1.5, 2.0, 1.4,
       1.9, 2.3, 1.6, 2.1, 2.2, 2.4, 1.7, 1.6, 1.4, 1.3, 1.0, 1.2, 1.4, 1.6, 1.7,
       1.5, 1.4, 1.1, 1.2, 0.9, 1.0, 0.8, 0.9, 1.1, 1.0, 1.2, 1.3, 1.6, 1.5, 2.0,
       1.6, 2.1, 2.6, 1.6, 2.0, 1.4, 1.5, 1.1, 1.2, 1.0, 1.0, 1.0, 0.9, 1.0, 0.8,
       0.9, 0.8]

h12_start = 1952
h12 = [0.6, 0.9, 1.3, 1.1, 1.6, 1.2, 1.5, 1.6, 2.3, 1.7, 2.2, 1.5, 2.0, 2.5, 1.7,
       2.2, 2.3, 2.6, 1.8, 1.8, 1.6, 1.5, 1.2, 1.4, 1.7, 1.9, 2.0, 1.8, 1.6, 1.3,
       1.5, 1.2, 1.2, 1.0, 1.1, 1.3, 1.2, 1.4, 1.5, 1.8, 1.7, 2.2, 1.8, 2.3, 2.9,
       1.8, 2.3, 1.6, 1.7, 1.3, 1.4, 1.2, 1.2, 1.1, 1.0, 1.1, 0.9, 1.0, 0.9, 0.8,
       0.8, 0.7, 0.7, 0.8, 0.6, 0.8, 0.6, 0.6, 0.5, 0.6, 0.4]

h13_start = 1958
h13 = [0.3, 0.4, 0.5, 0.7, 0.6, 0.8, 1.0, 0.8, 1.0, 1.1, 1.2, 0.9, 0.9, 0.8, 0.8,
       0.6, 0.7, 0.9, 1.0, 1.0, 0.9, 0.8, 0.7, 0.7, 0.6, 0.6, 0.5, 0.6, 0.7, 0.6,
       0.7, 0.8, 0.9, 0.9, 1.1, 0.9, 1.2, 1.4, 0.9, 1.1, 0.8, 0.8, 0.6, 0.7, 0.6,
       0.6, 0.6, 0.5, 0.6, 0.5, 0.5, 0.5, 0.4, 0.4, 0.5, 0.4, 0.5, 0.4, 0.4, 0.3,
       0.4, 0.3, 0.3, 0.3, 0.3]

h14_start = 1962
h14 = [0.5, 0.8, 1.2, 1.0, 1.4, 1.6, 1.9, 1.4, 1.5, 1.3, 1.2, 1.0, 1.2, 1.6, 1.9,
       2.1, 1.9, 1.7, 1.5, 1.8, 1.6, 2.0, 2.3, 2.6, 2.9, 2.7, 3.4, 2.8, 3.0, 2.8,
       3.3, 2.7, 3.1, 3.5, 2.6, 3.0, 2.3, 2.4, 2.0, 2.0, 1.8, 1.8, 1.7, 1.5, 1.6,
       1.4, 1.5, 1.3]

h15_start = 1968
h15 = [0.4, 0.6, 0.9, 1.1, 1.0, 0.9, 1.2, 1.5, 1.8, 2.0, 1.9, 1.7, 1.5, 1.8, 1.6,
       1.9, 2.1, 2.3, 2.6, 2.4, 2.9, 2.7, 2.9, 2.6, 3.3, 2.8, 3.4, 3.8, 2.8, 3.2,
       2.5, 2.6, 2.1, 2.0, 1.8, 1.8, 1.7, 1.5, 1.6, 1.4, 1.5, 1.2, 1.1, 1.2, 1.0,
       0.9, 1.1, 0.9, 1.0, 0.8, 0.9, 0.7, 1.0, 0.6, 0.7]

h16_start = 1972
h16 = [0.5, 0.6, 0.5, 0.7, 0.9, 1.1, 1.0, 1.0, 0.9, 1.1, 0.9, 1.2, 1.4, 1.6, 1.8,
       1.7, 2.1, 2.0, 2.2, 2.0, 2.6, 2.1, 2.7, 3.2, 2.2, 2.6, 1.9, 2.0, 1.7, 1.7,
       1.5, 1.5, 1.4, 1.2, 1.3, 1.1, 1.2, 1.0]

h17_start = 1978
h17 = [0.4, 0.5, 0.6, 0.8, 0.7, 0.9, 1.1, 1.3, 1.6, 1.5, 1.9, 1.8, 2.0, 1.8, 2.4,
       1.9, 2.5, 2.9, 2.1, 2.4, 1.8, 1.9, 1.6, 1.7, 1.5, 1.6, 1.6, 1.4, 1.5, 1.3,
       1.4, 1.2, 1.2, 1.3, 1.1, 1.0, 1.2, 1.0, 1.1, 0.9, 1.0, 0.8, 1.0, 0.7, 0.8]

h18_start = 1884
h18 = [0.6, 0.5, 0.7, 0.6, 0.9, 0.8, 0.7, 1.0, 0.9, 1.2, 1.0, 1.3, 1.5, 1.7, 2.1,
       1.8, 2.3, 1.9, 1.6, 1.4, 1.7, 1.9, 1.6, 1.5, 1.3, 1.1, 1.0, 1.2, 1.5, 1.8,
       2.0, 1.6, 1.4, 1.2, 1.1, 1.2, 1.0, 0.9, 0.8, 0.9, 0.6, 0.7, 1.0, 0.7, 0.6,
       0.8, 1.0, 0.6, 1.1, 1.0, 1.1, 0.7, 0.9, 1.2, 0.9, 0.8, 0.9, 0.7, 0.7, 0.8,
       0.9, 0.7, 0.9, 0.9, 1.1, 1.0, 0.6, 0.8, 0.8, 1.0, 0.7, 0.8, 0.5, 0.6, 0.6,
       0.9, 0.7, 0.9, 0.6, 0.8, 1.0, 0.7, 0.9, 0.9, 1.0, 0.7, 0.7, 0.6, 0.5, 0.4,
       0.5, 0.6, 0.6, 0.6, 0.5, 0.5, 0.4, 0.4, 0.3, 0.3, 0.3, 0.3, 0.4, 0.3, 0.4,
       0.4, 0.5, 0.5, 0.6, 0.5, 0.7, 0.8, 0.5, 0.6, 0.4, 0.5, 0.4, 0.4, 0.3, 0.4,
       0.3, 0.3, 0.3, 0.3, 0.3, 0.3]

h19_start = 1905
h19 = [0.4, 0.6, 0.5, 0.8, 0.7, 0.6, 0.9, 1.2, 1.4, 1.1, 1.0, 0.9, 0.8, 0.9, 0.8,
       0.7, 0.6, 0.8, 0.5, 0.6, 0.8, 0.6, 0.5, 0.7, 0.9, 0.5, 1.0, 0.9, 1.1, 0.6,
       0.8, 1.2, 0.9, 0.7, 0.8, 0.6, 0.6, 0.7, 0.9, 0.7, 0.8, 0.8, 1.1, 0.9, 0.5,
       0.7, 0.7, 0.9, 0.6, 0.7, 0.5, 0.6, 0.6, 0.8, 0.6, 0.8, 0.5, 0.7, 0.9, 0.6,
       0.8, 0.8, 0.9, 0.6, 0.6, 0.5, 0.5, 0.4, 0.4, 0.5, 0.5, 0.6, 0.5, 0.5, 0.4,
       0.4, 0.3, 0.3, 0.3, 0.3, 0.4, 0.3, 0.4, 0.4, 0.5, 0.4, 0.6, 0.5, 0.6, 0.7,
       0.5, 0.6, 0.4, 0.4, 0.3, 0.3, 0.3, 0.3, 0.3, 0.3, 0.3, 0.2, 0.3, 0.3]

h20_start = 1945
h20 = [0.5, 0.4, 0.6, 0.7, 0.9, 0.6, 0.8, 0.9, 1.1, 0.9, 1.0, 0.7, 0.8, 0.9, 1.3,
       1.0, 1.3, 0.9, 1.2, 1.5, 1.1, 1.4, 1.5, 1.6, 1.2, 1.3, 1.2, 1.1, 0.9, 1.1,
       1.5, 1.8, 2.0, 1.9, 1.7, 1.6, 1.9, 2.3, 2.0, 2.6, 3.0, 2.5, 2.3, 2.7, 2.4,
       2.5, 2.2, 2.9, 2.3, 2.7, 3.0, 2.1, 2.5, 1.8, 1.9, 1.6, 1.6, 1.4, 1.5, 1.4,
       1.3, 1.3, 1.2, 1.2, 1.0]

h21_start = 1932
h21 = [1.0, 1.5, 1.9, 1.4, 1.8, 2.4, 2.0, 1.8, 2.2, 1.8, 1.9, 2.3, 2.9, 2.2, 2.6,
       2.8, 3.3, 2.9, 1.9, 2.4, 2.5, 2.8, 2.1, 2.2, 1.5, 1.7, 1.7, 2.3, 1.7, 2.1,
       1.5, 1.9, 2.2, 1.5, 1.9, 1.9, 2.0, 1.4, 1.3, 1.1, 1.0, 0.8, 0.8, 1.0, 1.1,
       1.1, 1.0, 0.9, 0.7, 0.8, 0.6, 0.6, 0.5, 0.6, 0.7, 0.6, 0.7, 0.8, 0.9, 0.8,
       1.0, 0.8, 1.1, 1.3, 0.8, 1.0, 0.7, 0.8, 0.6, 0.6, 0.5, 0.5, 0.5, 0.5, 0.5,
       0.4, 0.5, 0.4]

h22_start = 1887
h22 = [1.2, 1.7, 2.3, 1.9, 2.6, 2.2, 2.9, 2.1, 2.5, 2.8, 3.2, 2.6, 3.0, 2.4, 2.1,
       1.7, 1.9, 2.2, 1.9, 1.7, 1.5, 1.3, 1.2, 1.4, 1.8, 2.1, 1.9, 1.6, 1.4, 1.2,
       1.1, 1.2, 1.0, 0.9, 0.8, 0.9, 0.6, 0.7, 0.9, 0.7, 0.6, 0.7, 1.0, 0.6, 1.1,
       1.0, 1.1, 0.7, 0.9, 1.2, 0.9, 0.8, 0.9, 0.7, 0.7, 0.8, 0.9, 0.7, 0.9, 0.9,
       1.1, 1.0, 0.6, 0.8, 0.8, 1.0, 0.7, 0.8, 0.5, 0.6, 0.6, 0.9, 0.7, 0.9, 0.6,
       0.8, 1.0, 0.7, 0.9, 0.9, 1.0, 0.7, 0.7, 0.6, 0.5, 0.4, 0.5, 0.6, 0.6, 0.6,
       0.5, 0.5, 0.4, 0.4, 0.3, 0.4, 0.3, 0.4, 0.4, 0.4, 0.4, 0.5, 0.5, 0.6, 0.6,
       0.7, 0.8, 0.6, 0.7, 0.5, 0.5, 0.4, 0.4, 0.4, 0.4, 0.3, 0.4, 0.4, 0.3, 0.3,
       0.3]

i01_start = 1891
i01 = [1.0, 1.3, 1.9, 1.6, 2.4, 2.0, 2.7, 3.0, 2.6, 3.3, 2.9, 2.2, 2.5, 1.8, 2.1,
       2.4, 1.9, 1.6, 1.8, 1.3, 1.5, 1.9, 2.2, 1.7, 1.5, 1.3, 1.4, 1.1, 1.2, 0.9,
       1.0, 0.8, 0.9, 0.6, 0.8, 1.0, 0.7, 0.6, 0.9, 1.1, 0.6, 1.2, 1.0, 1.3, 0.8,
       0.9, 1.2, 0.9, 0.8, 0.9, 0.7, 0.6, 0.8, 1.0, 0.7, 0.8, 0.9, 1.1, 1.0, 0.6,
       0.7, 0.8, 0.9, 0.7, 0.8, 0.5, 0.6, 0.6, 0.9, 0.7, 0.8, 0.6, 0.8, 1.0, 0.7,
       0.8, 0.8, 0.9, 0.7, 0.6, 0.5, 0.5, 0.4, 0.4, 0.5, 0.6, 0.5, 0.5, 0.5, 0.4,
       0.4, 0.3, 0.3, 0.3, 0.4, 0.4, 0.4, 0.5, 0.5, 0.6, 0.5, 0.7, 0.6, 0.8, 0.9,
       0.6, 0.7, 0.5, 0.5, 0.4, 0.4, 0.4, 0.4, 0.4, 0.4, 0.3, 0.4, 0.3]

i02_start = 1899
i02 = [0.8, 1.5, 2.3, 2.0, 2.8, 3.4, 2.6, 2.2, 2.9, 2.5, 2.0, 1.7, 2.3, 2.8, 2.5,
       2.0, 1.8, 1.5, 1.7, 1.4, 1.2, 1.4, 1.0, 1.3, 0.8, 1.1, 1.4, 0.9, 0.8, 1.1,
       1.6, 0.9, 1.7, 1.4, 1.5, 1.0, 1.3, 1.8, 1.2, 1.1, 1.2, 0.9, 0.9, 1.1, 1.4,
       0.9, 1.2, 1.3, 1.7, 1.4, 0.8, 1.1, 1.1, 1.4, 1.0, 1.1, 0.7, 0.8, 0.9, 1.3,
       0.9, 1.2, 0.8, 1.1, 1.4, 0.9, 1.2, 1.2, 1.3, 0.9, 0.8, 0.7, 0.7, 0.5, 0.6,
       0.7, 0.8, 0.8, 0.7, 0.6, 0.5, 0.6, 0.4, 0.5, 0.4, 0.5, 0.6, 0.5, 0.6, 0.6,
       0.7, 0.7, 0.9, 0.7, 1.0, 1.2, 0.7, 0.9, 0.6, 0.7, 0.5, 0.6, 0.5, 0.5, 0.5,
       0.5, 0.5, 0.4, 0.5, 0.4, 0.4]

i03_start = 1904
i03 = [1.0, 1.6, 1.3, 2.0, 2.6, 2.2, 1.9, 2.4, 3.2, 3.8, 3.0, 2.6, 2.9, 2.3, 2.0,
       2.3, 1.9, 1.7, 1.5, 1.8, 1.1, 1.4, 1.9, 1.2, 1.1, 1.5, 2.1, 1.2, 2.3, 2.0,
       2.4, 1.5, 1.9, 2.5, 1.8, 1.6, 1.7, 1.3, 1.2, 1.4, 1.8, 1.3, 1.6, 1.7, 2.1,
       1.9, 1.1, 1.4, 1.4, 1.8, 1.3, 1.4, 0.9, 1.1, 1.1, 1.6, 1.2, 1.5, 1.0, 1.4,
       1.7, 1.1, 1.5, 1.5, 1.6, 1.1, 1.0, 0.9, 0.8, 0.6, 0.7, 0.9, 1.0, 1.0, 0.9,
       0.8, 0.6, 0.7, 0.5, 0.5, 0.5, 0.5, 0.6, 0.5, 0.6, 0.7, 0.8, 0.8, 1.0, 0.8,
       1.1, 1.3, 0.8, 1.0, 0.7, 0.8, 0.6, 0.6, 0.5, 0.6, 0.5, 0.5, 0.5, 0.4, 0.5,
       0.4]

i04_start = 1908
i04 = [0.3, 0.4, 0.3, 0.5, 0.6, 0.5, 0.4, 0.6, 0.5, 0.4, 0.5, 0.4, 0.3, 0.4, 0.3,
       0.4, 0.2, 0.3, 0.4, 0.3, 0.2, 0.3, 0.4, 0.2, 0.5, 0.4, 0.5, 0.3, 0.4, 0.6,
       0.4, 0.3, 0.4, 0.3, 0.3, 0.4, 0.5, 0.3, 0.4, 0.4, 0.6, 0.5, 0.3, 0.4, 0.4,
       0.5, 0.4, 0.4, 0.3, 0.3, 0.3, 0.5, 0.4, 0.5, 0.3, 0.4, 0.5, 0.3, 0.4, 0.4,
       0.5, 0.3, 0.3, 0.3, 0.3, 0.2, 0.2, 0.3, 0.3, 0.3, 0.3, 0.3, 0.2, 0.2, 0.2,
       0.2, 0.2, 0.2, 0.2, 0.2, 0.3, 0.3, 0.3, 0.3, 0.3, 0.3, 0.4, 0.3, 0.4, 0.4,
       0.3, 0.3, 0.3, 0.3, 0.2, 0.2, 0.2, 0.2, 0.2, 0.2, 0.2, 0.2]

i05_start = 1913
i05 = [0.6, 0.9, 1.3, 1.1, 1.6, 2.0, 1.7, 2.1, 1.8, 1.5, 1.7, 1.3, 1.0, 1.2, 1.6,
       1.1, 1.0, 1.3, 1.8, 1.0, 2.0, 1.8, 2.1, 1.3, 1.7, 2.2, 1.6, 1.4, 1.5, 1.1,
       1.1, 1.3, 1.6, 1.2, 1.4, 1.5, 1.9, 1.7, 1.0, 1.2, 1.3, 1.6, 1.2, 1.3, 0.9,
       1.0, 1.0, 1.5, 1.1, 1.4, 1.0, 1.3, 1.6, 1.1, 1.4, 1.4, 1.5, 1.1, 1.0, 0.8,
       0.8, 0.6, 0.7, 0.8, 0.9, 0.9, 0.8, 0.7, 0.6, 0.7, 0.5, 0.5, 0.4, 0.5, 0.6,
       0.5, 0.6, 0.7, 0.8, 0.7, 0.9, 0.7, 1.0, 1.2, 0.7, 0.9, 0.6, 0.7, 0.5, 0.5,
       0.5, 0.5, 0.5, 0.4, 0.5, 0.4, 0.4]

i06_start = 1922
i06 = [0.8, 1.2, 0.9, 1.5, 2.0, 1.4, 1.3, 1.8, 2.4, 1.5, 2.6, 2.3, 2.7, 1.7, 2.1,
       2.8, 2.1, 1.8, 1.9, 1.4, 1.4, 1.6, 2.1, 1.5, 1.8, 1.9, 2.4, 2.1, 1.2, 1.5,
       1.6, 2.0, 1.4, 1.6, 1.1, 1.3, 1.2, 1.8, 1.3, 1.7, 1.2, 1.6, 1.9, 1.3, 1.7,
       1.7, 1.8, 1.3, 1.2, 1.0, 1.0, 0.8, 0.8, 1.0, 1.1, 1.1, 1.0, 0.9, 0.8, 0.8,
       0.6, 0.6, 0.5, 0.6, 0.7, 0.6, 0.7, 0.8, 0.9, 0.9, 1.1, 0.9, 1.2, 1.4, 0.9,
       1.1, 0.8, 0.8, 0.6, 0.6, 0.6, 0.6, 0.6, 0.5, 0.6, 0.5, 0.5]

i07_start = 1938
i07 = [0.5, 0.8, 1.1, 0.9, 1.2, 1.6, 1.3, 1.5, 1.6, 2.1, 1.9, 1.1, 1.5, 1.6, 1.9,
       1.4, 1.5, 1.0, 1.2, 1.3, 1.8, 1.4, 1.8, 1.2, 1.6, 1.9, 1.3, 1.7, 1.8, 1.9,
       1.3, 1.2, 1.0, 1.0, 0.8, 0.9, 1.0, 1.1, 1.1, 1.0, 0.9, 0.7, 0.8, 0.6, 0.6,
       0.5, 0.6, 0.7, 0.6, 0.7, 0.8, 1.0, 0.9, 1.2, 0.9, 1.3, 1.5, 0.9, 1.1, 0.8,
       0.9, 0.7, 0.7, 0.6, 0.6, 0.6, 0.6, 0.6, 0.5, 0.6, 0.5, 0.5]

i08_start = 1943
i08 = [0.6, 1.0, 1.5, 1.2, 1.7, 2.0, 2.4, 2.1, 1.4, 1.8, 1.9, 2.4, 1.8, 1.9, 1.3,
       1.6, 1.6, 2.4, 1.8, 2.3, 1.5, 2.1, 2.6, 1.7, 2.2, 2.3, 2.6, 1.8, 1.7, 1.4,
       1.3, 1.0, 1.1, 1.4, 1.5, 1.6, 1.4, 1.3, 1.0, 1.1, 0.8, 0.8, 0.7, 0.8, 1.0,
       0.9, 1.0, 1.1, 1.3, 1.2, 1.6, 1.2, 1.7, 2.0, 1.2, 1.6, 1.1, 1.2, 0.9, 0.9,
       0.8, 0.8, 0.8, 0.7, 0.8, 0.7, 0.7]

i09_start = 1956
i09 = [0.4, 0.5, 0.7, 0.9, 0.8, 1.1, 0.9, 1.3, 1.5, 1.1, 1.4, 1.5, 1.7, 1.2, 1.1,
       1.0, 0.9, 0.7, 0.8, 1.0, 1.1, 1.2, 1.1, 1.0, 0.8, 0.9, 0.7, 0.7, 0.6, 0.7,
       0.8, 0.7, 0.9, 1.0, 1.2, 1.1, 1.5, 1.2, 1.6, 1.9, 1.2, 1.5, 1.0, 1.1, 0.9,
       0.9, 0.8, 0.8, 0.8, 0.7, 0.8, 0.6, 0.7, 0.6]

i10_start = 1963
i10 = [0.3, 0.5, 0.7, 0.6, 0.9, 1.1, 1.3, 1.0, 0.9, 0.8, 0.7, 0.6, 0.7, 0.9, 1.1,
       1.2, 1.1, 1.0, 0.8, 0.9, 0.7, 0.8, 0.8, 0.9, 1.1, 1.0, 1.2, 1.3, 1.6, 1.4,
       1.9, 1.5, 2.0, 2.4, 1.6, 1.9, 1.4, 1.5, 1.2, 1.2, 1.1, 1.1, 1.1, 1.0, 1.0,
       0.9, 0.9, 0.8, 0.8, 0.7, 0.8, 0.7, 0.8, 0.6, 0.7, 0.6, 0.7, 0.5, 0.6, 0.4]

i11_start = 1980
i11 = [0.3, 0.4, 0.4, 0.5, 0.6, 0.7, 0.8, 0.8, 1.0, 1.1, 1.3, 1.2, 1.6, 1.3, 1.7,
       2.1, 1.5, 1.8, 1.3, 1.4, 1.2, 1.2, 1.1, 1.1, 1.0, 0.9, 1.0, 0.8, 0.9, 0.8,
       0.8, 0.7, 0.8, 0.6, 0.7, 0.6, 0.8, 0.5, 0.6, 0.5, 0.6, 0.4, 0.5]

i12_start = 1926
i12 = [0.3, 0.5, 0.4, 0.4, 0.6, 0.8, 0.5, 0.9, 0.8, 1.0, 0.6, 0.8, 1.1, 0.8, 0.7,
       0.8, 0.6, 0.6, 0.7, 0.9, 0.7, 0.8, 0.8, 1.0, 0.9, 0.5, 0.7, 0.7, 0.9, 0.6,
       0.7, 0.5, 0.6, 0.6, 0.8, 0.6, 0.8, 0.5, 0.7, 0.9, 0.6, 0.8, 0.8, 0.9, 0.6,
       0.6, 0.5, 0.5, 0.4, 0.4, 0.5, 0.5, 0.5, 0.5, 0.4, 0.4, 0.4, 0.3, 0.3, 0.3,
       0.3, 0.3, 0.3, 0.4, 0.4, 0.4, 0.5, 0.5, 0.6, 0.4, 0.7, 0.8, 0.5, 0.6, 0.4,
       0.5, 0.4, 0.4, 0.3, 0.3, 0.3, 0.3, 0.3, 0.3]

i13_start = 1951
i13 = [0.5, 0.7, 1.0, 0.9, 1.3, 1.0, 1.4, 1.5, 2.2, 1.7, 2.3, 1.6, 2.2, 2.8, 1.9,
       2.4, 2.4, 2.7, 1.9, 1.9, 1.6, 1.5, 1.2, 1.3, 1.6, 1.8, 1.8, 1.6, 1.5, 1.2,
       1.3, 1.0, 1.0, 0.9, 1.0, 1.2, 1.1, 1.2, 1.3, 1.5, 1.4, 1.9, 1.5, 2.0, 2.4,
       1.5, 1.9, 1.3, 1.4, 1.1, 1.1, 1.0, 1.0, 0.9, 0.9, 0.9, 0.8, 0.8, 0.7]

i14_start = 1985
i14 = [0.4, 0.5, 0.7, 0.6, 0.9, 1.0, 1.2, 1.1, 1.5, 1.2, 1.6, 2.0, 1.4, 1.7, 1.2,
       1.3, 1.1, 1.2, 1.0, 1.1, 1.0, 1.0, 1.0, 0.9, 0.9, 0.8, 0.9, 0.7, 0.8, 0.7,
       0.8, 0.6, 0.7, 0.6, 0.7, 0.5, 0.6, 0.4]

grey_series = [
    (g01_start, g01), (g02_start, g02), (g03_start, g03), (g04_start, g04),
    (g05_start, g05), (g06_start, g06), (g07_start, g07), (g08_start, g08),
    (g09_start, g09), (g10_start, g10), (g11_start, g11), (g12_start, g12),
    (g13_start, g13), (g14_start, g14), (g15_start, g15), (g16_start, g16),
    (g17_start, g17), (g18_start, g18), (g19_start, g19), (g20_start, g20),
    (g21_start, g21), (g22_start, g22), (g23_start, g23), (g24_start, g24),
    (g25_start, g25), (g26_start, g26), (g27_start, g27), (g28_start, g28),
    (h01_start, h01), (h02_start, h02), (h03_start, h03), (h04_start, h04),
    (h05_start, h05), (h06_start, h06), (h07_start, h07), (h08_start, h08),
    (h09_start, h09), (h10_start, h10), (h11_start, h11), (h12_start, h12),
    (h13_start, h13), (h14_start, h14), (h15_start, h15), (h16_start, h16),
    (h17_start, h17), (h18_start, h18), (h19_start, h19), (h20_start, h20),
    (h21_start, h21), (h22_start, h22),
    (i01_start, i01), (i02_start, i02), (i03_start, i03), (i04_start, i04),
    (i05_start, i05), (i06_start, i06), (i07_start, i07), (i08_start, i08),
    (i09_start, i09), (i10_start, i10), (i11_start, i11), (i12_start, i12),
    (i13_start, i13), (i14_start, i14),
]

x_tick_vals = [1860, 1880, 1900, 1920, 1940, 1960, 1980, 2000, 2020]
y_tick_vals = [0, 2, 4, 6, 8]

AXIS_COL = "#6e6e6e"
X_TICK_FONT = dict(family="Roboto", size=24, color="#8c8c8c", weight=300)
Y_TICK_FONT = dict(family="Roboto", size=24, color="#8c8c8c", weight=300)

fig = go.Figure()
for start, vals in grey_series:
    fig.add_trace(go.Scatter(
        x=[start + i for i in range(len(vals))], y=vals, mode="lines",
        line=dict(color="#c6c6c6", width=1.1), hoverinfo="skip", showlegend=False))

fig.add_trace(go.Scatter(
    x=[mean_start + i for i in range(len(mean_vals))], y=mean_vals, mode="lines",
    line=dict(color="#d41515", width=2.4), showlegend=False))

# empty helper trace so the overlaid axes (outer halves of the ticks) are drawn
fig.add_trace(go.Scatter(x=[None], y=[None], xaxis="x2", yaxis="y2", showlegend=False))

xr = [1860, 2028.2]
yr = [0, 8]

fig.update_layout(
    width=842, height=528,
    margin=dict(l=102, r=0, t=56, b=67),
    paper_bgcolor="white", plot_bgcolor="white",
    title=dict(text="<b>MTA</b>", x=0.517, xref="container", y=0.936, yref="container",
               xanchor="center", yanchor="middle",
               font=dict(family="Liberation Sans", size=35, color="black")),
    # labelled axes carry the inner halves of the crossing ticks
    xaxis=dict(range=xr, showgrid=False, zeroline=False, showline=True,
               linecolor=AXIS_COL, linewidth=1.6, ticks="inside", ticklen=10,
               tickwidth=1.4, tickcolor=AXIS_COL, tickvals=x_tick_vals,
               tickfont=X_TICK_FONT, ticklabelstandoff=0,
               minor=dict(ticks="inside", ticklen=6, tickwidth=1.4, tickcolor=AXIS_COL,
                          tick0=1870, dtick=20, showgrid=False)),
    xaxis2=dict(range=xr, overlaying="x", anchor="y", side="bottom", showgrid=False,
                zeroline=False, showline=False, ticks="outside", ticklen=10,
                tickwidth=1.4, tickcolor=AXIS_COL, tickvals=x_tick_vals,
                showticklabels=False),
    yaxis=dict(range=yr, showgrid=False, zeroline=False, showline=True,
               linecolor=AXIS_COL, linewidth=1.6, ticks="inside", ticklen=12,
               tickwidth=1.4, tickcolor=AXIS_COL, tickvals=y_tick_vals,
               tickfont=Y_TICK_FONT, ticklabelstandoff=11,
               minor=dict(ticks="inside", ticklen=6, tickwidth=1.4, tickcolor=AXIS_COL,
                          tick0=1, dtick=2, showgrid=False)),
    yaxis2=dict(range=yr, overlaying="y", anchor="x", side="left", showgrid=False,
                zeroline=False, showline=False, ticks="outside", ticklen=12,
                tickwidth=1.4, tickcolor=AXIS_COL, tickvals=y_tick_vals,
                showticklabels=False,
                minor=dict(ticks="outside", ticklen=6, tickwidth=1.4, tickcolor=AXIS_COL,
                           tick0=1, dtick=2, showgrid=False)),
    annotations=[
        dict(text="<b>Ampiezza incrementi (mm)</b>", textangle=-90,
             xref="paper", yref="paper", x=(30 - 102) / 740, y=(461 - 246) / 405,
             xanchor="center", yanchor="middle", showarrow=False,
             font=dict(family="Liberation Sans", size=31, color="black")),
        dict(text="<b>Anni</b>", xref="paper", yref="paper",
             x=(437 - 102) / 740, y=(461 - 512) / 405,
             xanchor="center", yanchor="middle", showarrow=False,
             font=dict(family="Liberation Sans", size=24, color="black")),
    ],
)

fig.write_html("out.html")
